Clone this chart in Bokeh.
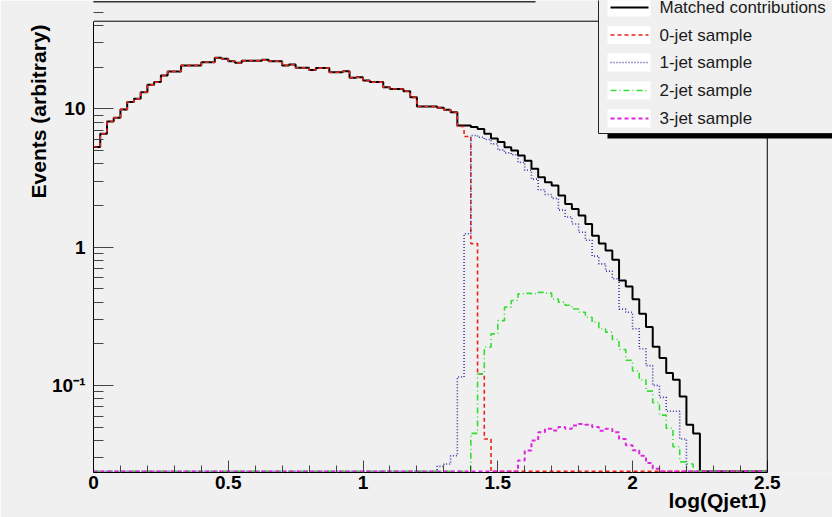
import numpy as np
from bokeh.plotting import figure
from bokeh.models import (Range1d, SingleIntervalTicker, FixedTicker, CustomJSTickFormatter,
                          Label, BoxAnnotation, Arrow, Span, Title)
from bokeh.embed import file_html
from bokeh.resources import INLINE

# ---------------- data ----------------
x_lo, x_hi, n_bins = 0.0, 2.5, 100
y_lo, y_hi = 0.02346, 43.0

matched = [5.3, 6.6, 8.1, 8.6, 9.9, 11.2, 11.8, 13.2, 14.9, 15.6,
           17.4, 18.6, 18.6, 20.6, 20.6, 20.6, 21.7, 21.7, 23.4, 23.0,
           22.1, 21.5, 22.3, 22.3, 22.3, 22.6, 22.1, 22.1, 20.6, 20.9,
           19.8, 19.8, 19.1, 19.7, 19.7, 18.4, 18.4, 18.7, 16.8, 16.9,
           16.0, 15.6, 15.6, 14.3, 13.9, 13.9, 13.4, 12.1, 10.4, 10.4,
           10.4, 10.2, 9.84, 9.45, 7.57, 7.57, 7.40, 7.16, 6.59, 6.10,
           5.76, 5.28, 4.99, 4.59, 4.22, 3.68, 3.20, 2.94, 2.79, 2.36,
           2.05, 1.89, 1.69, 1.47, 1.21, 1.06, 0.945, 0.81, 0.573, 0.52,
           0.42, 0.33, 0.264, 0.19, 0.158, 0.123, 0.11, 0.083, 0.052, 0.045,
           0, 0, 0, 0, 0, 0, 0, 0, 0, 0]

jet0 = [5.3, 6.6, 8.1, 8.6, 9.9, 11.2, 11.8, 13.2, 14.9, 15.6,
        17.4, 18.6, 18.6, 20.6, 20.6, 20.6, 21.7, 21.7, 23.4, 23.0,
        22.1, 21.5, 22.3, 22.3, 22.3, 22.6, 22.1, 22.1, 20.6, 20.9,
        19.8, 19.8, 19.1, 19.7, 19.7, 18.4, 18.4, 18.7, 16.8, 16.9,
        16.0, 15.6, 15.6, 14.3, 13.9, 13.9, 13.4, 12.1, 10.4, 10.4,
        10.4, 10.2, 9.82, 9.42, 7.45, 6.3, 1.06, 0.121, 0.041, 0,
        0, 0, 0, 0, 0, 0, 0, 0, 0, 0,
        0, 0, 0, 0, 0, 0, 0, 0, 0, 0,
        0, 0, 0, 0, 0, 0, 0, 0, 0, 0,
        0, 0, 0, 0, 0, 0, 0, 0, 0, 0]

jet1 = [0, 0, 0, 0, 0, 0, 0, 0, 0, 0,
        0, 0, 0, 0, 0, 0, 0, 0, 0, 0,
        0, 0, 0, 0, 0, 0, 0, 0, 0, 0,
        0, 0, 0, 0, 0, 0, 0, 0, 0, 0,
        0, 0, 0, 0, 0, 0, 0, 0, 0, 0,
        0, 0.026, 0.027, 0.031, 0.115, 1.25, 6.41, 6.23, 6.0, 5.58,
        5.05, 4.8, 4.65, 4.1, 3.6, 3.1, 2.6, 2.4, 2.25, 1.85,
        1.65, 1.47, 1.28, 1.12, 0.86, 0.756, 0.67, 0.59, 0.356, 0.338,
        0.257, 0.184, 0.139, 0.10, 0.082, 0.065, 0.065, 0.041, 0, 0,
        0, 0, 0, 0, 0, 0, 0, 0, 0, 0]

jet2 = [0, 0, 0, 0, 0, 0, 0, 0, 0, 0,
        0, 0, 0, 0, 0, 0, 0, 0, 0, 0,
        0, 0, 0, 0, 0, 0, 0, 0, 0, 0,
        0, 0, 0, 0, 0, 0, 0, 0, 0, 0,
        0, 0, 0, 0, 0, 0, 0, 0, 0, 0,
        0, 0, 0, 0, 0, 0, 0.045, 0.121, 0.189, 0.236,
        0.294, 0.368, 0.411, 0.46, 0.463, 0.46, 0.471, 0.465, 0.422, 0.40,
        0.38, 0.357, 0.338, 0.311, 0.286, 0.257, 0.243, 0.215, 0.182, 0.152,
        0.127, 0.11, 0.091, 0.075, 0.061, 0.049, 0.036, 0.028, 0.027, 0,
        0, 0, 0, 0, 0, 0, 0, 0, 0, 0]

jet3 = [0, 0, 0, 0, 0, 0, 0, 0, 0, 0,
        0, 0, 0, 0, 0, 0, 0, 0, 0, 0,
        0, 0, 0, 0, 0, 0, 0, 0, 0, 0,
        0, 0, 0, 0, 0, 0, 0, 0, 0, 0,
        0, 0, 0, 0, 0, 0, 0, 0, 0, 0,
        0, 0, 0, 0, 0, 0, 0, 0, 0, 0,
        0, 0, 0, 0.0287, 0.0338, 0.040, 0.0459, 0.0486, 0.0473, 0.050,
        0.0486, 0.0513, 0.0526, 0.052, 0.050, 0.047, 0.0486, 0.0459, 0.041, 0.037,
        0.034, 0.031, 0.0275, 0.025, 0, 0, 0, 0, 0, 0,
        0, 0, 0, 0, 0, 0, 0, 0, 0, 0]

legend_labels = ["Matched contributions", "0-jet sample", "1-jet sample",
                 "2-jet sample", "3-jet sample"]
x_title = "log(Qjet1)"
y_title = "Events (arbitrary)"

# ---------------- layout / styles ----------------
W, H = 832, 517
FRAME_L, FRAME_B = 93, 45          # border sizes (px); frame runs to right/top edge
X_VIEW_HI = 2.742                  # x value at right canvas edge
Y_VIEW_HI = 60.7                   # y value at top canvas edge
BG = "#f0f0f0"
zero_floor = 0.0239                # zero bins drawn along the frame bottom (ROOT style)

styles = [
    dict(line_color="#000000", line_width=2, line_dash="solid"),
    dict(line_color="#e8231c", line_width=1.6, line_dash="4 3"),
    dict(line_color="#3838a8", line_width=1.6, line_dash="1 2"),
    dict(line_color="#35dc35", line_width=1.6, line_dash="6 3 1 3"),
    dict(line_color="#dc28dc", line_width=2, line_dash="4 3"),
]

p = figure(width=W, height=H, y_axis_type="log", title=None,
           x_range=Range1d(x_lo, X_VIEW_HI), y_range=Range1d(y_lo, Y_VIEW_HI),
           output_backend="svg", toolbar_location=None,
           min_border_left=FRAME_L, min_border_right=0,
           min_border_top=0, min_border_bottom=FRAME_B)
p.background_fill_color = BG
p.border_fill_color = BG
p.outline_line_color = None
p.xgrid.visible = False
p.ygrid.visible = False

edges = np.linspace(x_lo, x_hi, n_bins + 1)
for vals, st in zip([matched, jet0, jet1, jet2, jet3], styles):
    v = np.asarray(vals, dtype=float)
    v = np.where(v > 0, v, zero_floor)
    yv = np.append(v, v[-1])
    p.step(edges, yv, mode="after", **st)

# frame top / right edges
p.add_layout(Span(location=y_hi, dimension="width", line_color="black", line_width=1))
p.add_layout(Span(location=x_hi, dimension="height", line_color="black", line_width=1))

# ---------------- axes ----------------
xa = p.xaxis[0]
xa.bounds = (x_lo, x_hi)
xa.ticker = SingleIntervalTicker(interval=0.5, num_minor_ticks=5)
xa.formatter = CustomJSTickFormatter(code="return (Math.round(tick*100)/100).toString();")
xa.major_tick_in = 12
xa.major_tick_out = 0
xa.minor_tick_in = 7
xa.minor_tick_out = 0
xa.major_label_standoff = 3
xa.major_label_text_font_size = "19px"

ya = p.yaxis[0]
ya.bounds = (y_lo, y_hi)
minor = []
for dec in [0.01, 0.1, 1.0, 10.0]:
    for m in range(2, 10):
        minor.append(dec * m)
ya.ticker = FixedTicker(ticks=[0.1, 1.0, 10.0], minor_ticks=minor)
ya.formatter = CustomJSTickFormatter(code="""
if (Math.abs(tick - 0.1) < 1e-9) return '10\u207b\u00b9';
if (Math.abs(tick - 1) < 1e-9) return '1';
return '10';
""")
ya.major_tick_in = 20
ya.major_tick_out = 0
ya.minor_tick_in = 10
ya.minor_tick_out = 0
ya.major_label_standoff = 8
ya.major_label_text_font_size = "19px"

for ax in (xa, ya):
    ax.axis_line_color = "black"
    ax.major_tick_line_color = "#444444"
    ax.minor_tick_line_color = "#444444"
    ax.major_label_text_font = "Liberation Sans"
    ax.major_label_text_font_style = "bold"
    ax.major_label_text_color = "black"

# axis titles, aligned to the axis ends as ROOT does
p.add_layout(Title(text=x_title, align="right", offset=66, standoff=-5,
                   vertical_align="top",
                   text_font="Liberation Sans", text_font_style="bold",
                   text_font_size="21px", text_color="black"), "below")
p.add_layout(Title(text=y_title, align="right", offset=24, standoff=0,
                   text_font="Liberation Sans", text_font_style="bold",
                   text_font_size="21px", text_color="black"), "left")

# ---------------- legend (ROOT TLegend look) ----------------
def sbox(l, r, b, t, fill, line=None):
    return BoxAnnotation(left=l, right=r, bottom=b, top=t,
                         left_units="screen", right_units="screen",
                         bottom_units="screen", top_units="screen",
                         fill_color=fill, fill_alpha=1,
                         line_color=line if line else fill,
                         line_alpha=1 if line else 0, line_width=1)

# title-pave edge at the very top
p.add_layout(sbox(-80, 442, 470, 471.5, "#333333"))

p.add_layout(sbox(514, 790, 334, 339.5, "black"))
p.add_layout(sbox(505, 790, 339, 490, BG, "#222222"))

entry_y = [465, 437.5, 410, 382, 354]
for yc, lab, st in zip(entry_y, legend_labels, styles):
    p.add_layout(sbox(514, 557, yc - 9, yc + 9, "white"))
    p.add_layout(Arrow(end=None, x_start=517, y_start=yc, x_end=555, y_end=yc,
                       start_units="screen", end_units="screen", **st))
    p.add_layout(Label(x=566, y=yc, x_units="screen", y_units="screen", text=lab,
                       text_align="left", text_baseline="middle",
                       text_font="Liberation Sans", text_font_size="17px",
                       text_color="#1a1a1a"))

open("out.html", "w").write(file_html(p, INLINE))
